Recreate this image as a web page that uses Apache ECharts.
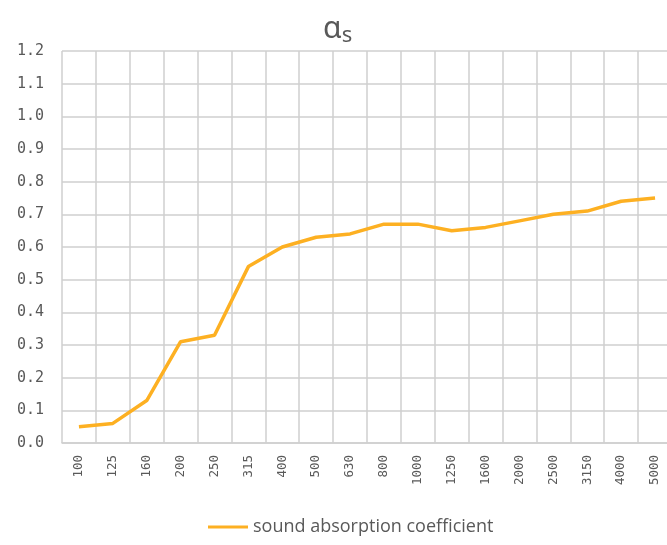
<!DOCTYPE html>
<html>
<head>
<meta charset="utf-8">
<script src="https://cdn.jsdelivr.net/npm/echarts@6/dist/echarts.min.js"></script>
<style>
  html, body { margin: 0; padding: 0; background: #fff; overflow: hidden; }
  #chart { width: 680px; height: 545px; }
</style>
</head>
<body>
<div id="chart"></div>
<script>
const frequencies = ['100', '125', '160', '200', '250', '315', '400', '500', '630', '800',
  '1000', '1250', '1600', '2000', '2500', '3150', '4000', '5000'];
const absorption = [0.05, 0.06, 0.13, 0.31, 0.33, 0.54, 0.60, 0.63, 0.64, 0.67,
  0.67, 0.65, 0.66, 0.68, 0.70, 0.71, 0.74, 0.75];
const seriesName = 'sound absorption coefficient';

// the plot runs a few px past the right edge of the window, like the source image
const chart = echarts.init(document.getElementById('chart'));
const textColor = '#595959';
const gridColor = '#cfcfcf';

chart.setOption({
  backgroundColor: '#fff',
  animation: false,
  title: {
    text: '{a|α}{s|s}',
    left: 318,
    top: 6,
    textStyle: {
      rich: {
        a: { fontSize: 30, color: textColor, fontFamily: 'Noto Sans', fontWeight: 'normal' },
        s: { fontSize: 22, color: textColor, fontFamily: 'Noto Sans', fontWeight: 'normal', padding: [14, 0, 0, 0] },
      },
    },
  },
  grid: { left: 62, right: 8, top: 51, bottom: 102, containLabel: false },
  legend: {
    bottom: 4,
    left: 203,
    icon: 'rect',
    itemWidth: 40,
    itemHeight: 3,
    itemGap: 10,
    textStyle: { color: textColor, fontSize: 18, fontFamily: 'Open Sans' },
    data: [seriesName],
  },
  xAxis: {
    type: 'category',
    data: frequencies,
    boundaryGap: true,
    axisLine: { lineStyle: { color: gridColor, width: 1.5 } },
    axisTick: { show: false },
    splitLine: { show: true, lineStyle: { color: gridColor, width: 1.5 } },
    axisLabel: {
      rotate: 90,
      interval: 0,
      margin: 12,
      color: textColor,
      fontSize: 12.5,
      fontFamily: 'DejaVu Sans Mono',
    },
  },
  yAxis: {
    type: 'value',
    min: 0,
    max: 1.2,
    interval: 0.1,
    axisLine: { show: false },
    axisTick: { show: false },
    splitLine: { lineStyle: { color: gridColor, width: 1.5 } },
    axisLabel: {
      margin: 18,
      color: textColor,
      fontSize: 15,
      fontFamily: 'DejaVu Sans Mono',
      formatter: (v) => v.toFixed(1),
    },
  },
  series: [
    {
      name: seriesName,
      type: 'line',
      data: absorption,
      showSymbol: false,
      symbol: 'none',
      lineStyle: { color: '#FDB022', width: 3.5 },
      itemStyle: { color: '#FDB022' },
    },
  ],
});
</script>
</body>
</html>
